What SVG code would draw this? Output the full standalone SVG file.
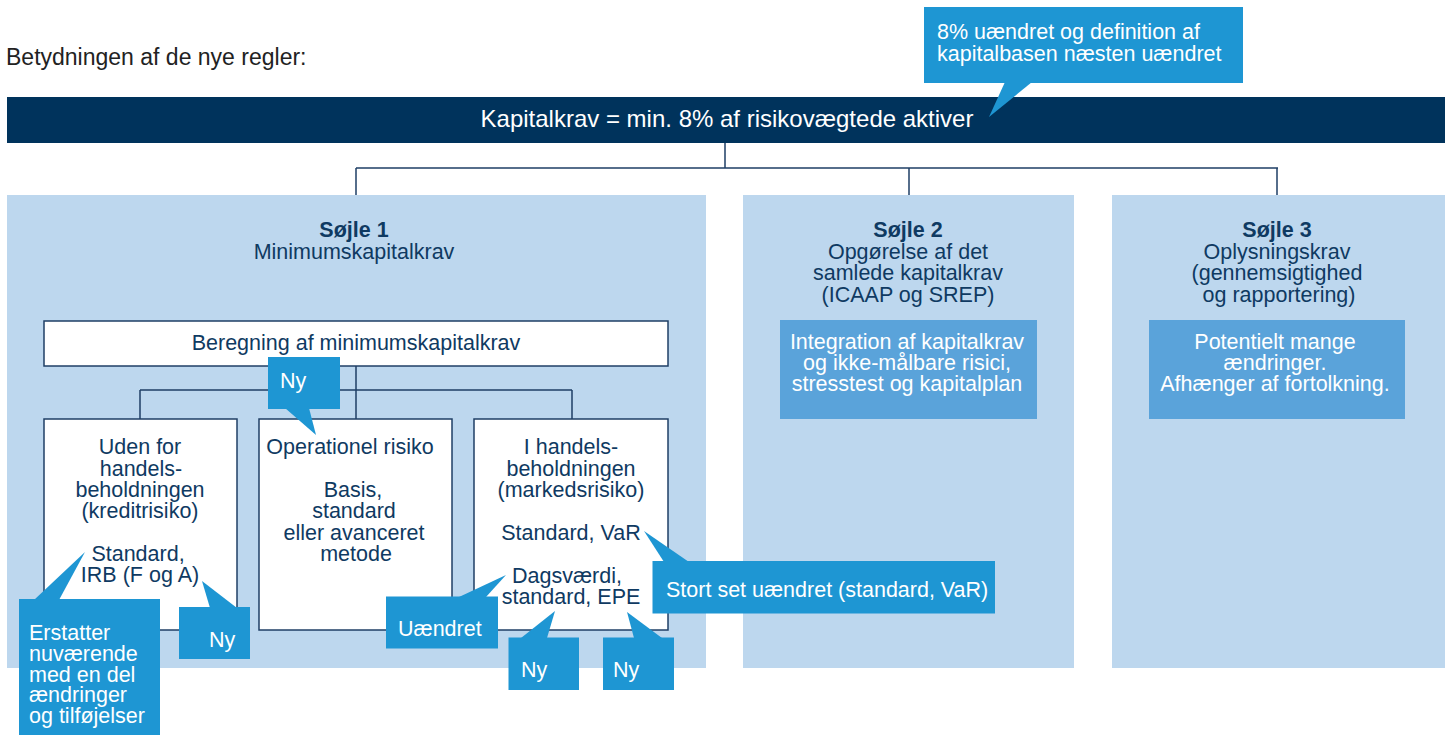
<svg xmlns="http://www.w3.org/2000/svg" width="1450" height="735" viewBox="0 0 1450 735">
<style>
text{font-family:"Liberation Sans",Arial,sans-serif;font-size:21.5px;}
.d{fill:#0f3a62;}
.w{fill:#ffffff;}
.c{text-anchor:middle;}
.b{font-weight:bold;}
.col{fill:#bdd7ee;}
.box{fill:#ffffff;stroke:#1f3f66;stroke-width:1.5;}
.inner{fill:#5aa3da;}
.call{fill:#1e96d3;}
.ln{fill:none;stroke:#1f3f66;stroke-width:1.5;}
</style>
<rect width="1450" height="735" fill="#ffffff"/>
<text x="6" y="65" style="font-size:23px" fill="#222222">Betydningen af de nye regler:</text>

<g id="bar">
<rect x="7" y="97" width="1438" height="46" fill="#00335c"/>
<text x="727" y="127" class="w c" style="font-size:24px">Kapitalkrav = min. 8% af risikovægtede aktiver</text>
</g>

<g id="col1"><rect x="7" y="195" width="699" height="473" class="col"/>
<text x="354" y="237" class="d c b">Søjle 1</text>
<text x="354" y="258.5" class="d c">Minimumskapitalkrav</text></g>

<g id="col2"><rect x="743" y="195" width="331" height="473" class="col"/>
<text x="908" y="237" class="d c b">Søjle 2</text>
<text x="908" y="258.5" class="d c">Opgørelse af det</text>
<text x="908" y="280" class="d c">samlede kapitalkrav</text>
<text x="908" y="301.5" class="d c">(ICAAP og SREP)</text></g>

<g id="col3"><rect x="1112" y="195" width="333" height="473" class="col"/>
<text x="1277" y="237" class="d c b">Søjle 3</text>
<text x="1277" y="258.5" class="d c">Oplysningskrav</text>
<text x="1277" y="280" class="d c">(gennemsigtighed</text>
<text x="1279" y="301.5" class="d c">og rapportering)</text></g>

<g id="inner2"><rect x="780" y="320" width="257" height="99" class="inner"/>
<text x="907" y="349" class="w c">Integration af kapitalkrav</text>
<text x="907" y="370" class="w c">og ikke-målbare risici,</text>
<text x="907" y="391" class="w c">stresstest og kapitalplan</text></g>

<g id="inner3"><rect x="1149" y="320" width="256" height="99" class="inner"/>
<text x="1275" y="349" class="w c">Potentielt mange</text>
<text x="1275" y="370" class="w c">ændringer.</text>
<text x="1275" y="391" class="w c">Afhænger af fortolkning.</text></g>

<g id="connectors">
<path class="ln" d="M725 143V168M356 168H1278M356 168V195M909 168V195M1277 168V195"/>
<path class="ln" d="M356 366V419M140 390H572M140 390V419M572 390V419"/>
</g>

<g id="beregning"><rect x="44" y="321" width="624" height="45" class="box"/>
<text x="356" y="349.5" class="d c">Beregning af minimumskapitalkrav</text></g>

<g id="box1"><rect x="44" y="419" width="193" height="211" class="box"/>
<text x="140" y="454" class="d c">Uden for</text>
<text x="141" y="475.5" class="d c">handels-</text>
<text x="140" y="497" class="d c">beholdningen</text>
<text x="140" y="518" class="d c">(kreditrisiko)</text>
<text x="138" y="561" class="d c">Standard,</text>
<text x="140" y="582" class="d c">IRB (F og A)</text></g>

<g id="box2"><rect x="259" y="419" width="193" height="211" class="box"/>
<text x="350" y="454" class="d c">Operationel risiko</text>
<text x="353" y="497" class="d c">Basis,</text>
<text x="354" y="518" class="d c">standard</text>
<text x="354" y="539.5" class="d c">eller avanceret</text>
<text x="356" y="560.5" class="d c">metode</text></g>

<g id="box3"><rect x="474" y="419" width="194" height="211" class="box"/>
<text x="571" y="454" class="d c">I handels-</text>
<text x="571" y="475.5" class="d c">beholdningen</text>
<text x="571" y="497" class="d c">(markedsrisiko)</text>
<text x="571" y="540" class="d c">Standard, VaR</text>
<text x="567" y="583" class="d c">Dagsværdi,</text>
<text x="571" y="604" class="d c">standard, EPE</text></g>

<g id="callout-top"><polygon points="1005,82 1032,82 989,117" class="call"/>
<rect x="924" y="7" width="319" height="76" class="call"/>
<text x="937" y="38.5" class="w">8% uændret og definition af</text>
<text x="937" y="60.5" class="w">kapitalbasen næsten uændret</text></g>

<g id="callout-ny1"><polygon points="285,408 309,408 316,435" class="call"/>
<rect x="268" y="357" width="72" height="52" class="call"/>
<text x="280" y="388" class="w">Ny</text></g>

<g id="callout-erstatter"><polygon points="34,600 59,600 85,552" class="call"/>
<rect x="19" y="599" width="141" height="136" class="call"/>
<text x="29" y="640" class="w">Erstatter</text>
<text x="29" y="661" class="w">nuværende</text>
<text x="29" y="681.5" class="w">med en del</text>
<text x="29" y="702" class="w">ændringer</text>
<text x="29" y="722.5" class="w">og tilføjelser</text></g>

<g id="callout-ny2"><polygon points="210,608 237,608 202,581" class="call"/>
<rect x="179" y="607" width="71" height="52" class="call"/>
<text x="209" y="646.5" class="w">Ny</text></g>

<g id="callout-uaendret"><polygon points="459,597 486,597 506,575" class="call"/>
<rect x="386" y="596.5" width="112" height="52" class="call"/>
<text x="398" y="636" class="w">Uændret</text></g>

<g id="callout-ny3"><polygon points="521,638 547,638 555,611" class="call"/>
<rect x="508.5" y="637.5" width="70.5" height="52.5" class="call"/>
<text x="521" y="676.5" class="w">Ny</text></g>

<g id="callout-ny4"><polygon points="634,638 662,638 627,612" class="call"/>
<rect x="603" y="637.5" width="71" height="52.5" class="call"/>
<text x="613" y="676.5" class="w">Ny</text></g>

<g id="callout-stort"><polygon points="664,562 689,562 644,531" class="call"/>
<rect x="652.5" y="561" width="342.5" height="52.5" class="call"/>
<text x="666" y="596.5" class="w">Stort set uændret (standard, VaR)</text></g>
</svg>
